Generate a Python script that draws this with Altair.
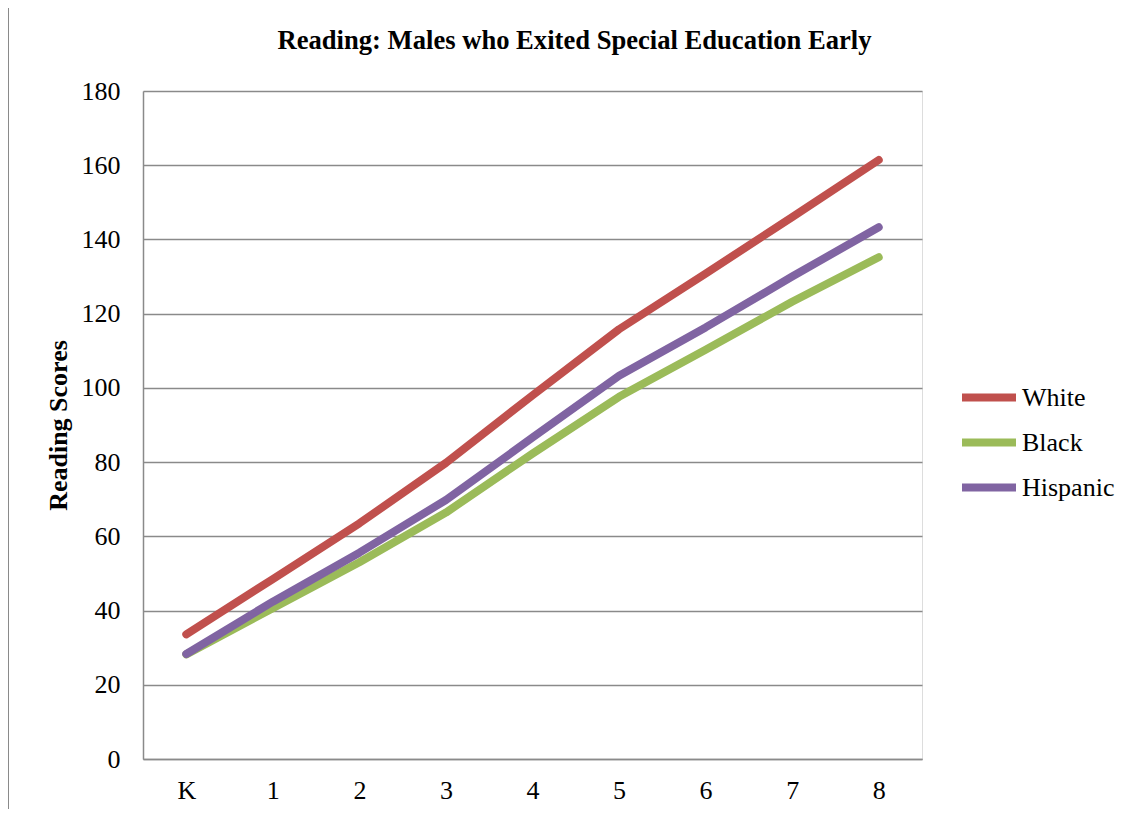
import altair as alt
import pandas as pd

grades = ["K", "1", "2", "3", "4", "5", "6", "7", "8"]
series = ["White", "Black", "Hispanic"]
white = [33.6, 48.5, 63.5, 79.8, 98.0, 115.8, 130.8, 146.0, 161.4]
black = [28.2, 40.6, 53.0, 66.4, 82.3, 97.6, 110.3, 123.2, 135.2]
hispanic = [28.3, 42.4, 55.6, 69.8, 86.6, 103.3, 116.3, 130.0, 143.3]
colors = ["#C0504D", "#9BBB59", "#8064A2"]
y_ticks = [0, 20, 40, 60, 80, 100, 120, 140, 160, 180]

rows = []
for name, vals in zip(series, [white, black, hispanic]):
    for g, v in zip(grades, vals):
        rows.append({"grade": g, "score": v, "group": name})
df = pd.DataFrame(rows)

FONT = "Liberation Serif"
GRAY = "#8a8a8a"
FS = 26

lines = alt.Chart(df).mark_line(strokeWidth=8, strokeCap="round", strokeJoin="round").encode(
    x=alt.X("grade:N", sort=grades, title=None,
            axis=alt.Axis(labelAngle=0, ticks=False, grid=False, domainColor=GRAY, domainWidth=1.5,
                          labelPadding=18, labelFontSize=FS, labelFont=FONT, labelColor="black")),
    y=alt.Y("score:Q", scale=alt.Scale(domain=[0, 180]), title="Reading Scores",
            axis=alt.Axis(values=y_ticks, ticks=False, grid=True, gridColor=GRAY, gridWidth=1.5,
                          domainColor=GRAY, domainWidth=1.5, labelPadding=23, labelFontSize=FS,
                          labelFont=FONT, labelColor="black", titleFont=FONT, titleFontSize=FS,
                          titleFontWeight="bold", titleColor="black", titlePadding=10)),
    color=alt.Color("group:N", scale=alt.Scale(domain=series, range=colors),
                    legend=alt.Legend(title=None, orient="none", legendX=842, legendY=289,
                                      symbolType="M-3,0H1", symbolStrokeWidth=8, symbolSize=729,
                                      labelFontSize=FS, labelFont=FONT, labelColor="black",
                                      labelOffset=2, rowPadding=11, padding=0)),
)

border = alt.Chart(pd.DataFrame({"a": [0]})).mark_rule(color=GRAY, strokeWidth=2).encode(
    x=alt.value(-135), y=alt.value(-90), y2=alt.value(720)
)

chart = alt.layer(lines, border).properties(
    width=779, height=668,
    title=alt.TitleParams("Reading: Males who Exited Special Education Early", font=FONT, fontSize=26.6,
                          fontWeight="bold", color="black", anchor="middle", dx=42, dy=55, offset=0),
    autosize=alt.AutoSizeParams(type="none"),
    padding={"left": 135, "top": 83, "right": 200, "bottom": 50},
).configure_view(stroke=None).configure(background="white")

chart.save("out.html", embed_options={"renderer": "svg", "actions": False})
